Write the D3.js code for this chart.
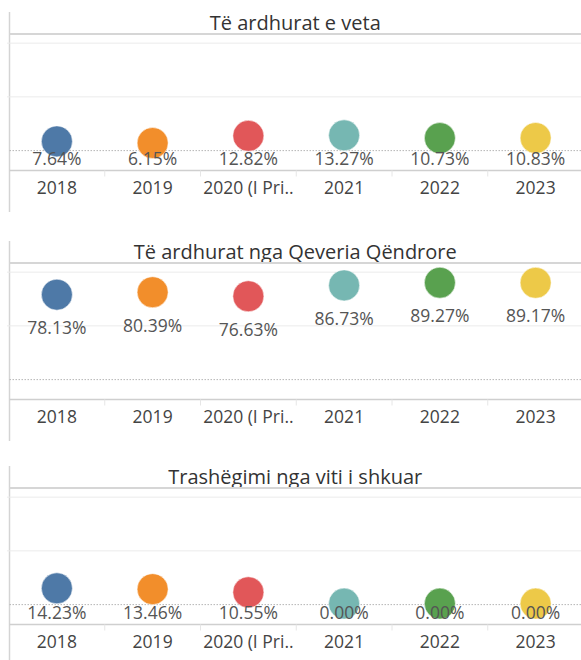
<!DOCTYPE html>
<html>
<head>
<meta charset="utf-8">
<script src="https://cdn.jsdelivr.net/npm/d3@7"></script>
<style>
  body { margin: 0; background: #fff; }
  text { font-family: "Open Sans", sans-serif; }
</style>
</head>
<body>
<div id="chart"></div>
<script>
var years = ["2018", "2019", "2020 (I Pri..", "2021", "2022", "2023"];
var colors = ["#4e79a7", "#f28e2b", "#e15759", "#76b7b2", "#59a14f", "#edc948"];

var titles = ["Të ardhurat e veta", "Të ardhurat nga Qeveria Qëndrore", "Trashëgimi nga viti i shkuar"];
var ownRevenue = [7.64, 6.15, 12.82, 13.27, 10.73, 10.83];
var centralGov = [78.13, 80.39, 76.63, 86.73, 89.27, 89.17];
var carryover = [14.23, 13.46, 10.55, 0, 0, 0];
var gridValues = [50, 100];

var panels = [
    {title: titles[0], values: ownRevenue, top: 12},
    {title: titles[1], values: centralGov, top: 241},
    {title: titles[2], values: carryover, top: 466}
];

var width = 581, height = 660;
var left = 9.5, right = 581;

var svg = d3.select("#chart")
    .append("svg")
    .attr("width", width)
    .attr("height", height);

var x = d3.scaleBand()
    .domain(years)
    .range([9, 583.5]);

panels.forEach(function(p) {
    var g = svg.append("g");
    var headerY = p.top + 22,
        axisY = p.top + 158.5;

    var y = d3.scaleLinear()
        .domain([-18.5, 108.5])
        .range([axisY, headerY]);

    // left axis line
    g.append("line")
        .attr("x1", left).attr("x2", left)
        .attr("y1", p.top).attr("y2", p.top + 200)
        .style("stroke", "#d4d4d4")
        .style("stroke-width", 1.5);

    // title
    g.append("text")
        .attr("x", (left + right) / 2)
        .attr("y", p.top + 17.5)
        .attr("text-anchor", "middle")
        .style("font-size", "20px")
        .style("fill", "#333")
        .text(p.title);

    // header line under the title
    g.append("line")
        .attr("x1", left).attr("x2", right)
        .attr("y1", headerY).attr("y2", headerY)
        .style("stroke", "#d6d6d6")
        .style("stroke-width", 2);

    // gridlines
    g.selectAll(".grid")
        .data(gridValues)
        .join("line")
            .attr("class", "grid")
            .attr("x1", 7).attr("x2", right)
            .attr("y1", function(d) { return y(d); })
            .attr("y2", function(d) { return y(d); })
            .style("stroke", "#ebebeb")
            .style("stroke-width", 1);

    // zero line
    g.append("line")
        .attr("x1", left).attr("x2", right)
        .attr("y1", y(0)).attr("y2", y(0))
        .style("stroke", "#b5b5b5")
        .style("stroke-dasharray", "1.5,1.5")
        .style("stroke-width", 1);

    // bottom axis
    g.append("line")
        .attr("x1", left).attr("x2", right)
        .attr("y1", axisY).attr("y2", axisY)
        .style("stroke", "#cfcfcf")
        .style("stroke-width", 1.5);

    // separators between categories
    g.selectAll(".sep")
        .data(years.slice(1))
        .join("line")
            .attr("class", "sep")
            .attr("x1", function(d) { return x(d); })
            .attr("x2", function(d) { return x(d); })
            .attr("y1", axisY).attr("y2", axisY + 6)
            .style("stroke", "#e6e6e6");

    // category labels
    g.selectAll(".cat")
        .data(years)
        .join("text")
            .attr("class", "cat")
            .attr("x", function(d) { return x(d) + x.bandwidth() / 2; })
            .attr("y", axisY + 23.5)
            .attr("text-anchor", "middle")
            .style("font-size", "17.5px")
            .style("fill", "#444")
            .text(function(d) { return d; });

    // circles
    g.selectAll(".dot")
        .data(p.values)
        .join("circle")
            .attr("class", "dot")
            .attr("cx", function(d, i) { return x(years[i]) + x.bandwidth() / 2; })
            .attr("cy", function(d) { return y(d) - 1; })
            .attr("r", 15.5)
            .attr("fill", function(d, i) { return colors[i]; })
            .style("stroke", "#fff")
            .style("stroke-opacity", 0.5)
            .style("stroke-width", 1);

    // value labels
    g.selectAll(".val")
        .data(p.values)
        .join("text")
            .attr("class", "val")
            .attr("x", function(d, i) { return x(years[i]) + x.bandwidth() / 2; })
            .attr("y", function(d) { return Math.min(y(d) + 32, y(0) + 8); })
            .attr("dy", "0.36em")
            .attr("text-anchor", "middle")
            .style("font-size", "17.5px")
            .style("fill", "#555")
            .text(function(d) { return d.toFixed(2) + "%"; });
});
</script>
</body>
</html>
